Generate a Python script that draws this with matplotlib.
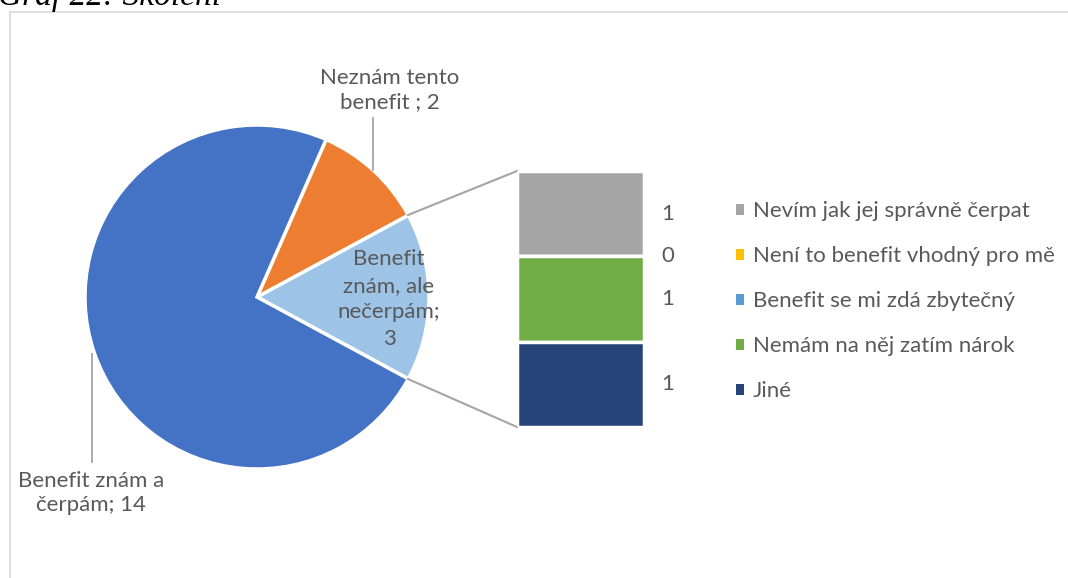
import matplotlib
matplotlib.use("Agg")
import matplotlib.pyplot as plt
from matplotlib.patches import Patch
import numpy as np

# ---- data ----
pie_labels = ["Benefit znám, ale\nnečerpám", "Neznám tento\nbenefit ", "Benefit znám a\nčerpám"]
pie_values = [3, 2, 14]
pie_colors = ["#9DC3E6", "#ED7D31", "#4472C4"]

bar_categories = ["Nevím jak jej správně čerpat", "Není to benefit vhodný pro mě",
                  "Nemám na něj zatím nárok", "Jiné"]
bar_values = [1, 0, 1, 1]
bar_colors = ["#A5A5A5", "#FFC000", "#70AD47", "#264478"]

legend_labels = ["Nevím jak jej správně čerpat", "Není to benefit vhodný pro mě",
                 "Benefit se mi zdá zbytečný", "Nemám na něj zatím nárok", "Jiné"]
legend_colors = ["#A5A5A5", "#FFC000", "#5B9BD5", "#70AD47", "#264478"]

title = "Graf 22: Školení"

W, H = 1068, 578
FONT = "Lato"
TXT = "#595959"
FS = 16

fig = plt.figure(figsize=(W / 100, H / 100), dpi=100)
ax = fig.add_axes([0, 0, 1, 1])

def Y(y):
    return H - y

# pie
cx, cy, r = 257, Y(297), 172
total = sum(pie_values)
start = -pie_values[0] / total * 360 / 2
wedges, _ = ax.pie(pie_values, colors=pie_colors, startangle=start, counterclock=True,
                   center=(cx, cy), radius=r, frame=True,
                   wedgeprops=dict(edgecolor="white", linewidth=2.5))
ax.set_xlim(0, W)
ax.set_ylim(0, H)
ax.set_aspect("equal")
ax.axis("off")

# frame
ax.plot([10, 10], [0, Y(12)], color="#D9D9D9", lw=1.2)
ax.plot([10, W], [Y(12), Y(12)], color="#D9D9D9", lw=1.2)

# title (partially cut, as in the source)
ax.text(-2, Y(5), title, fontfamily="Liberation Serif", fontstyle="italic",
        fontsize=24, va="baseline", ha="left", color="black")

# leader lines
ax.plot([373, 373], [Y(170), Y(118)], color="#A5A5A5", lw=1.3)
ax.plot([92, 92], [Y(354), Y(462)], color="#A5A5A5", lw=1.3)

# pie labels
ax.text(390, Y(90), f"{pie_labels[1]}; {pie_values[1]}", ha="center", va="center",
        fontfamily=FONT, fontsize=FS, color=TXT, linespacing=1.3)
ax.text(91, Y(493), f"{pie_labels[2]}; {pie_values[2]}", ha="center", va="center",
        fontfamily=FONT, fontsize=FS, color=TXT, linespacing=1.3)
ax.text(389, Y(299), "Benefit\nznám, ale\nnečerpám;\n" + str(pie_values[0]), ha="center",
        va="center", fontfamily=FONT, fontsize=FS, color=TXT, linespacing=1.42)

# connector lines
ax.plot([408, 517], [Y(215), Y(171)], color="#A5A5A5", lw=1.5)
ax.plot([408, 517], [Y(379), Y(427)], color="#A5A5A5", lw=1.5)

# bar of pie
bx0, bx1, by0, by1 = 517, 644, 171, 427
ax2 = fig.add_axes([bx0 / W, (H - by1) / H, (bx1 - bx0) / W, (by1 - by0) / H])
ax2.set_xlim(-0.5, 0.5)
ax2.set_ylim(0, sum(bar_values))
ax2.axis("off")
bottom = sum(bar_values)
for cat, v, c in zip(bar_categories, bar_values, bar_colors):
    bottom -= v
    ax2.bar(0, v, bottom=bottom, width=1.0, color=c, edgecolor="white", linewidth=2.5)
    ax2.annotate(str(v), xy=(0.5, bottom + v / 2), xytext=(24, 0),
                 textcoords="offset pixels", ha="center", va="center",
                 fontfamily=FONT, fontsize=FS, color=TXT, annotation_clip=False)

# legend
handles = [Patch(facecolor=c, edgecolor="none") for c in legend_colors]
leg = fig.legend(handles, legend_labels, loc="upper left",
                 bbox_to_anchor=(736 / W, (H - 201) / H), frameon=False,
                 prop=dict(family=FONT, size=FS), labelcolor=TXT,
                 handlelength=0.38, handleheight=0.38, handletextpad=0.38,
                 labelspacing=1.13, borderpad=0, borderaxespad=0)

fig.savefig("out.png", dpi=100)
